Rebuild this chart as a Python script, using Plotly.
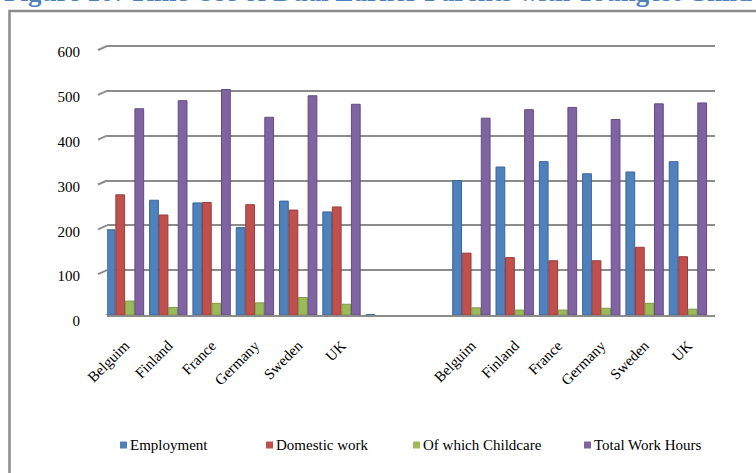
import plotly.graph_objects as go

# Countries shown in each of the two panels of the chart
tick_labels = ["Belguim", "Finland", "France", "Germany", "Sweden", "UK"]

# Left panel
left_employment = [190, 256, 250, 195, 254, 230]
left_domestic = [268, 223, 251, 246, 234, 241]
left_childcare = [31, 17, 26, 27, 39, 24]
left_total = [460, 478, 503, 441, 489, 470]

# Right panel
right_employment = [300, 330, 342, 315, 319, 342]
right_domestic = [138, 128, 121, 121, 151, 130]
right_childcare = [16, 11, 11, 15, 26, 13]
right_total = [439, 458, 463, 436, 471, 473]

# Blank separator slots between the panels (first one holds a near-zero value)
gap_employment = [1, None]
gap_other = [None, None]

series_names = ["Employment", "Domestic work", "Of which Childcare", "Total Work Hours"]
series_colors = ["#4F81BD", "#C0504D", "#9BBB59", "#8064A2"]
series_edges = ["#3b6698", "#9a3b38", "#7a9a42", "#624b82"]

left_sets = [left_employment, left_domestic, left_childcare, left_total]
right_sets = [right_employment, right_domestic, right_childcare, right_total]
gap_sets = [gap_employment, gap_other, gap_other, gap_other]

n_left = len(tick_labels)
n_gap = len(gap_employment)
positions = list(range(n_left + n_gap + len(tick_labels)))
tick_positions = positions[:n_left] + positions[n_left + n_gap:]

W, H = 756, 473
L, R, T, B = 107, 41, 44, 158
PW, PH = W - L - R, H - T - B
Y_TOP_TICK = 600
PX_PER_UNIT = 269 / 600          # 0 sits at y=315 px, 600 at y=46 px
Y_MAX = PH / PX_PER_UNIT          # a little headroom keeps the 600 gridline visible
units_per_px = 1 / PX_PER_UNIT

# Pixel column where each legend key starts
legend_key_px = [120, 266, 413, 584]
legend_row_px = 445


def xp(px):
    return (px - L) / PW


def yp(py):
    return (H - B - py) / PH


serif = "Liberation Serif, Times New Roman, serif"

fig = go.Figure()
for name, color, edge, lv, gv, rv in zip(series_names, series_colors, series_edges,
                                          left_sets, gap_sets, right_sets):
    fig.add_trace(go.Bar(
        x=positions,
        y=list(lv) + list(gv) + list(rv),
        name=name,
        marker=dict(color=color, line=dict(color=edge, width=1)),
    ))

shapes = []
annotations = []
# Short slanted ends of the gridlines, giving the back wall its depth
for v in range(0, Y_TOP_TICK + 1, 100):
    shapes.append(dict(type="line", xref="paper", yref="y",
                       x0=xp(98), x1=xp(107), y0=v - 4 * units_per_px, y1=v,
                       line=dict(color="#8c8c8c", width=2)))
# Front edge of the floor
shapes.append(dict(type="line", xref="paper", yref="y",
                   x0=xp(98), x1=xp(711), y0=-4 * units_per_px, y1=-4 * units_per_px,
                   line=dict(color="#a6a6a6", width=2)))
shapes.append(dict(type="line", xref="paper", yref="y",
                   x0=xp(711), x1=xp(716), y0=-4 * units_per_px, y1=0,
                   line=dict(color="#8c8c8c", width=2)))
# Chart frame
shapes.append(dict(type="rect", xref="paper", yref="paper",
                   x0=xp(9.5), x1=xp(770), y0=yp(11), y1=yp(490),
                   line=dict(color="#8c8c8c", width=2.5)))

# Legend: small colour keys followed by the series names
for name, color, kx in zip(series_names, series_colors, legend_key_px):
    shapes.append(dict(type="rect", xref="paper", yref="paper",
                       x0=xp(kx), x1=xp(kx + 7),
                       y0=yp(legend_row_px + 3.5), y1=yp(legend_row_px - 3.5),
                       fillcolor=color, line=dict(width=0)))
    annotations.append(dict(text=name, xref="paper", yref="paper",
                            x=xp(kx + 8), y=yp(legend_row_px),
                            xanchor="left", yanchor="middle", showarrow=False,
                            font=dict(family=serif, size=15, color="#000000")))

annotations.append(dict(
    text="Figure 10: Time Use of Dual Earner Parents with Youngest Child",
    xref="paper", yref="paper", x=xp(2), y=yp(9),
    xanchor="left", yanchor="bottom", showarrow=False,
    font=dict(family=serif, size=27, color="#4f81bd", weight="bold"),
))

fig.update_layout(
    width=W, height=H,
    margin=dict(l=L, r=R, t=T, b=B),
    paper_bgcolor="white", plot_bgcolor="white",
    barmode="group", bargap=0.12, bargroupgap=0.08,
    font=dict(family=serif, size=15, color="#000000"),
    shapes=shapes,
    annotations=annotations,
    showlegend=False,
)

fig.update_xaxes(
    range=[(107 - 125) / 43.3, (715 - 125) / 43.3],
    tickmode="array", tickvals=tick_positions, ticktext=tick_labels * 2,
    tickangle=-45, ticks="", ticklabelstandoff=14,
    showgrid=False, zeroline=False,
    showline=True, linecolor="#8c8c8c", linewidth=2,
    tickfont=dict(family=serif, size=15),
)
fig.update_yaxes(
    range=[0, Y_MAX], tickvals=list(range(0, Y_TOP_TICK + 1, 100)),
    showgrid=True, gridcolor="#8c8c8c", gridwidth=2,
    zeroline=False, showline=False, ticks="", ticklabelstandoff=26,
    ticklabelshift=6,
    tickfont=dict(family=serif, size=15),
)

fig.write_html("out.html")
